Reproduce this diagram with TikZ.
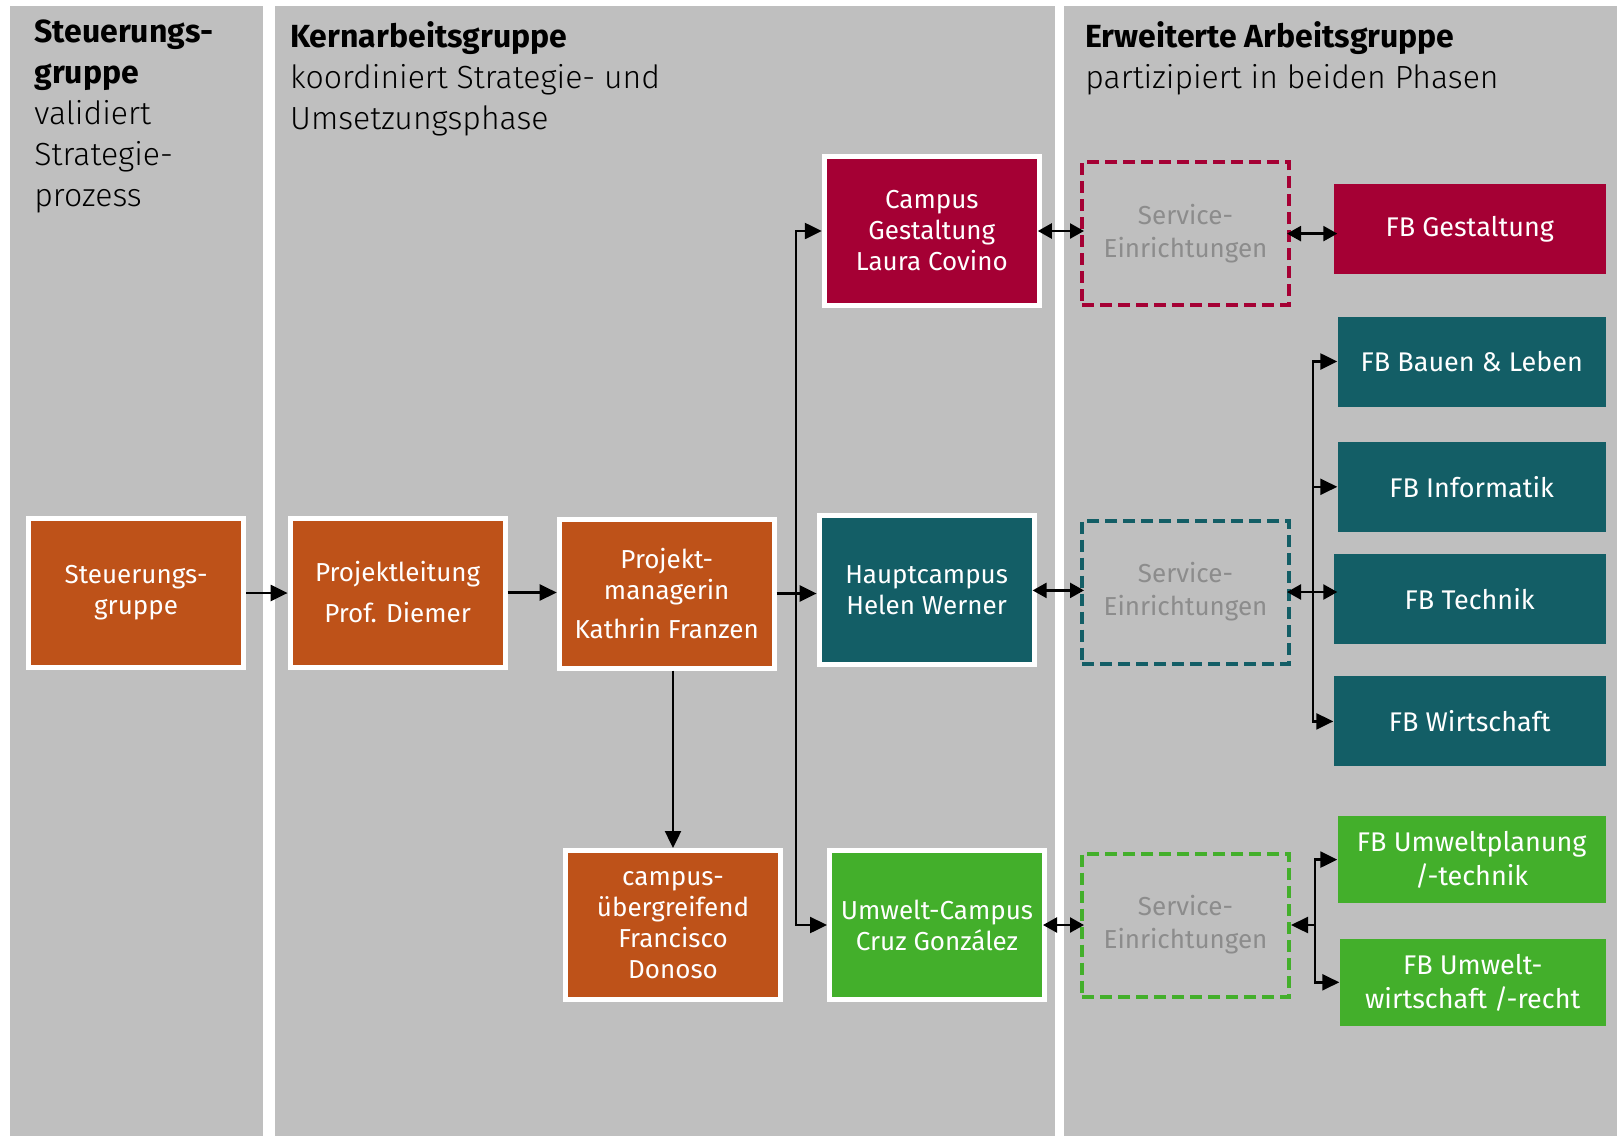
\documentclass[tikz,border=0pt]{standalone}
\usepackage{fontspec}
\setmainfont{Fira Sans}
\newfontfamily\lightfont{Fira Sans Light}
\usetikzlibrary{arrows.meta}
\definecolor{cor}{HTML}{BE5219}
\definecolor{cmag}{HTML}{A50034}
\definecolor{cteal}{HTML}{135E66}
\definecolor{cgreen}{HTML}{43AF2B}
\definecolor{panelgray}{HTML}{BFBFBF}
\definecolor{servgray}{HTML}{8C8C8C}
\tikzset{
  wbox/.style={draw=white, line width=2.5pt, text=white, align=center,
    minimum width=107.5pt, minimum height=74.5pt, inner sep=0pt,
    font=\fontsize{13}{15.5}\selectfont},
  sbox/.style={draw=#1, line width=2pt, dash pattern=on 6pt off 3pt, text=servgray,
    align=center, minimum width=103.5pt, minimum height=71.5pt, inner sep=0pt,
    font=\fontsize{13}{16.5}\selectfont},
  fbbox/.style={fill=#1, text=white, align=center, minimum height=45pt, inner sep=0pt,
    font=\fontsize{13.5}{17}\selectfont},
  title/.style={anchor=base west, align=left, inner sep=0pt,
    font=\fontsize{16}{20.5}\selectfont},
  arr/.style={line width=1.2pt, -{Triangle[length=8.5pt,width=8pt]}},
  darr/.style={line width=1.2pt, shorten <=-2pt, shorten >=-2pt,
    {Triangle[length=7pt,width=7.5pt]}-{Triangle[length=7pt,width=7.5pt]}},
}
\begin{document}
\begin{tikzpicture}[x=0.5pt,y=-0.5pt]
\fill[white] (0,0) rectangle (1617,1136);
\useasboundingbox (0,0) rectangle (1617,1136);
\fill[panelgray] (10.3,6.2) rectangle (263,1136);
\fill[panelgray] (275.4,6.2) rectangle (1055,1136);
\fill[panelgray] (1064,6.2) rectangle (1617,1136);

% anchor = baseline of the last line
\node[title] (t1) at (34,206) {\textbf{Steuerungs-}\\\textbf{gruppe}\\{\lightfont validiert}\\{\lightfont Strategie-}\\{\lightfont prozess}};
\node[title] (t2) at (289.8,129) {\textbf{Kernarbeitsgruppe}\\{\lightfont koordiniert Strategie- und}\\{\lightfont Umsetzungsphase}};
\node[title] (t3) at (1085,88) {\textbf{Erweiterte Arbeitsgruppe}\\{\lightfont partizipiert in beiden Phasen}};

\node[wbox, fill=cor] (steu) at (136.1,593) {Steuerungs-\\gruppe};
\node[wbox, fill=cor] (pl) at (397.6,592.5) {Projektleitung\\[5pt]Prof. Diemer};
\node[wbox, fill=cor] (pm) at (666.7,593.5) {Projekt-\\managerin\\[4pt]Kathrin Franzen};
\node[wbox, fill=cor] (cu) at (673,925) {campus-\\übergreifend\\Francisco\\Donoso};
\node[wbox, fill=cmag] (cg) at (931.8,231) {Campus\\Gestaltung\\Laura Covino};
\node[wbox, fill=cteal] (hc) at (926.6,590.4) {Hauptcampus\\Helen Werner};
\node[wbox, fill=cgreen] (uc) at (937,925) {Umwelt-Campus\\Cruz González};

\node[sbox=cmag] (s1) at (1185.5,233.6) {Service-\\Einrichtungen};
\node[sbox=cteal] (s2) at (1185.5,592) {Service-\\Einrichtungen};
\node[sbox=cgreen] (s3) at (1185.5,925) {Service-\\Einrichtungen};

\node[fbbox=cmag, minimum width=136pt] (fbg) at (1469.7,229) {FB Gestaltung};
\node[fbbox=cteal, minimum width=134pt] (fbb) at (1471.7,361.5) {FB Bauen \& Leben};
\node[fbbox=cteal, minimum width=134pt] (fbi) at (1471.7,486.8) {FB Informatik};
\node[fbbox=cteal, minimum width=136pt] (fbt) at (1469.7,599.2) {FB Technik};
\node[fbbox=cteal, minimum width=136pt] (fbw) at (1469.7,721.4) {FB Wirtschaft};
\node[fbbox=cgreen, minimum width=134pt, minimum height=43.8pt] (fbu1) at (1471.7,859.6) {FB Umweltplanung\\/-technik};
\node[fbbox=cgreen, minimum width=133pt, minimum height=43.8pt] (fbu2) at (1472.7,982.3) {FB Umwelt-\\wirtschaft /-recht};

\coordinate (j1) at (796.2,0);
\coordinate (j2) at (1312.8,0);
\coordinate (j3) at (1315,0);

\draw[arr] (steu.east) -- (steu.east -| pl.west);
\draw[arr] (pl.east) -- (pl.east -| pm.west);
\draw[arr] (pm.east) -- (pm.east -| hc.west);
\draw[arr] (pm.east -| j1) |- (cg.west);
\draw[arr] (pm.east -| j1) |- (uc.west);
\draw[arr] (pm.south -| cu.north) -- (cu.north);

\draw[darr] (cg.east) -- (cg.east -| s1.west);
\draw[darr] (s1.east) -- (s1.east -| fbg.west);
\draw[darr] (hc.east) -- (hc.east -| s2.west);
\draw[darr] (uc.east) -- (uc.east -| s3.west);

\draw[darr] (s2.east) -- (s2.east -| fbt.west);
\draw[arr] (s2.east -| j2) |- (fbb.west);
\draw[arr] (s2.east -| j2) |- (fbw.west);
\draw[arr] (fbi.west -| j2) -- (fbi.west);

\draw[arr] (s3.east -| j3) -- (s3.east);
\draw[arr] (s3.east -| j3) |- (fbu1.west);
\draw[arr] (s3.east -| j3) |- (fbu2.west);
\end{tikzpicture}
\end{document}
